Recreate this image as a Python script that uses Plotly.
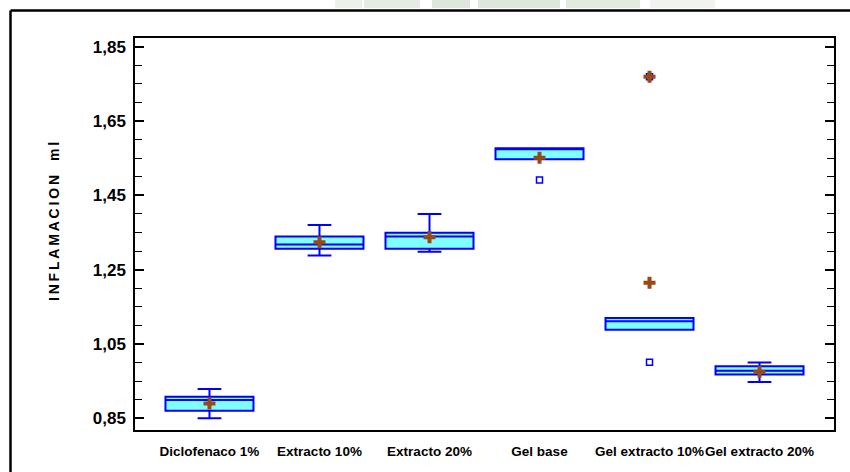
import plotly.graph_objects as go

# Groups and box statistics (ml)
categories = ["Diclofenaco 1%", "Extracto 10%", "Extracto 20%",
              "Gel base", "Gel extracto 10%", "Gel extracto 20%"]
lower_whisker = [0.850, 1.288, 1.298, 1.547, 1.088, 0.948]
q1 = [0.870, 1.306, 1.306, 1.547, 1.088, 0.968]
median = [0.899, 1.318, 1.339, 1.577, 1.111, 0.978]
q3 = [0.908, 1.339, 1.349, 1.577, 1.120, 0.990]
upper_whisker = [0.929, 1.370, 1.400, 1.577, 1.120, 1.000]
means = [0.890, 1.324, 1.337, 1.551, 1.215, 0.975]

# Outside points (group index, value)
outside_groups = [3, 4]
outside_values = [1.491, 1.001]
far_outside_groups = [4]
far_outside_values = [1.769]

y_ticks = [0.85, 1.05, 1.25, 1.45, 1.65, 1.85]

W, H = 850, 472
ML, MR, MT, MB = 135, 16, 38, 42
PW, PH = W - ML - MR, H - MT - MB

BOX_LINE = "#0000FF"
BOX_FILL = "#80FFFF"
MEAN_COLOR = "#984A16"
FONT = "Liberation Sans, Arial, sans-serif"

positions = list(range(len(categories)))

fig = go.Figure()

fig.add_trace(go.Box(
    x=positions,
    q1=q1, median=median, q3=q3,
    lowerfence=lower_whisker, upperfence=upper_whisker,
    width=0.8,
    whiskerwidth=0.27,
    fillcolor=BOX_FILL,
    line=dict(color=BOX_LINE, width=2),
    boxpoints=False,
    hoverinfo="skip",
    showlegend=False,
))

fig.add_trace(go.Scatter(
    x=outside_groups + far_outside_groups,
    y=outside_values + far_outside_values,
    mode="markers",
    marker=dict(symbol="square-open", size=6, color=BOX_LINE,
                line=dict(width=1.5, color=BOX_LINE)),
    hoverinfo="skip", showlegend=False,
))

fig.add_trace(go.Scatter(
    x=positions + far_outside_groups,
    y=means + far_outside_values,
    mode="markers",
    marker=dict(symbol="cross", size=10, color=MEAN_COLOR,
                line=dict(width=0)),
    hoverinfo="skip", showlegend=False,
))


def px_x(px):
    return (px - ML) / PW


def px_y(py):
    return (H - MB - py) / PH


shapes = [
    # outer frame (left and top edges)
    dict(type="line", xref="paper", yref="paper",
         x0=px_x(10.5), x1=px_x(10.5), y0=px_y(10.5), y1=px_y(480),
         line=dict(color="black", width=2.5)),
    dict(type="line", xref="paper", yref="paper",
         x0=px_x(10.5), x1=px_x(860), y0=px_y(10.5), y1=px_y(10.5),
         line=dict(color="black", width=2.5)),
]

# faint banner shapes above the frame
for x0, x1, col in [(335, 362, "rgba(200,214,196,0.35)"),
                    (364, 420, "rgba(190,208,186,0.4)"),
                    (432, 470, "rgba(180,202,176,0.45)"),
                    (478, 560, "rgba(180,202,176,0.45)"),
                    (566, 640, "rgba(185,205,180,0.4)"),
                    (650, 715, "rgba(205,216,200,0.3)")]:
    shapes.append(dict(type="rect", xref="paper", yref="paper",
                       x0=px_x(x0), x1=px_x(x1), y0=px_y(8), y1=px_y(0),
                       line=dict(width=0), fillcolor=col, layer="below"))

fig.update_layout(
    width=W, height=H,
    margin=dict(l=ML, r=MR, t=MT, b=MB, autoexpand=False),
    paper_bgcolor="white", plot_bgcolor="white",
    separators=",.",
    font=dict(family=FONT, color="black"),
    shapes=shapes,
    xaxis=dict(
        range=[-0.677, 5.677], automargin=False, tickangle=0,
        tickmode="array", tickvals=positions, ticktext=categories,
        tickfont=dict(family=FONT, size=13.5, color="black", weight="bold"),
        ticks="", showgrid=False, zeroline=False,
        showline=True, linecolor="black", linewidth=2, mirror=True,
        ticklabelstandoff=8,
    ),
    yaxis=dict(
        range=[0.8185, 1.8734], automargin=False,
        tickmode="array", tickvals=y_ticks, tickformat=".2f",
        tickfont=dict(family=FONT, size=17, color="black", weight="bold"),
        ticks="inside", ticklen=9, tickwidth=1.5, tickcolor="black",
        minor=dict(ticks="inside", dtick=0.05, tick0=0.85, ticklen=7,
                   tickwidth=1.2, tickcolor="black", showgrid=False),
        showgrid=False, zeroline=False,
        showline=True, linecolor="black", linewidth=1.5, mirror="ticks",
        ticklabelstandoff=4,
    ),
    annotations=[dict(
        text="I\u2009N\u2009F\u2009L\u2009A\u2009M\u2009A\u2009C\u2009I\u2009O\u2009N\u2003m\u2009l",
        xref="paper", yref="paper", x=px_x(54), y=px_y(222),
        xanchor="center", yanchor="middle", textangle=-90, showarrow=False,
        font=dict(family=FONT, size=14, color="black", weight="bold"),
    )],
)

fig.write_html("out.html")
